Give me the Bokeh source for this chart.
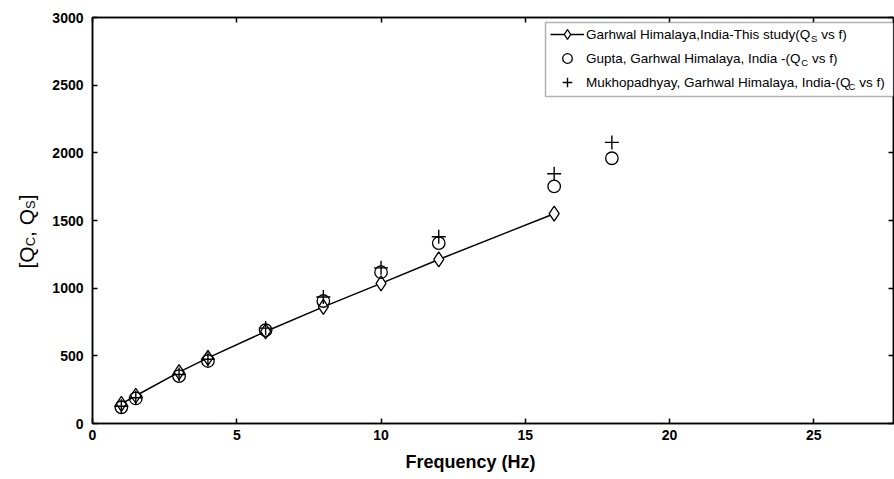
import math
from bokeh.plotting import figure
from bokeh.layouts import row
from bokeh.models import (Range1d, LinearAxis, FixedTicker, Legend, LegendItem, Label,
                          BoxAnnotation, Title)
from bokeh.embed import file_html
from bokeh.resources import INLINE

# ---------------- data ----------------
freq_this = [1, 1.5, 3, 4, 6, 8, 10, 12, 16]
qs_this = [145, 205, 380, 485, 680, 862, 1035, 1212, 1550]

freq_gupta = [1, 1.5, 3, 4, 6, 8, 10, 12, 16, 18]
qc_gupta = [120, 185, 350, 462, 690, 905, 1118, 1333, 1752, 1960]

freq_mukh = [1, 1.5, 3, 4, 6, 8, 10, 12, 16, 18]
qc_mukh = [128, 190, 362, 475, 705, 935, 1150, 1380, 1845, 2077]

x_ticks = [0, 5, 10, 15, 20, 25]
y_ticks = [0, 500, 1000, 1500, 2000, 2500, 3000]

legend_prefix = [
    "Garhwal Himalaya,India-This study(Q",
    "Gupta, Garhwal Himalaya, India -(Q",
    "Mukhopadhyay, Garhwal Himalaya, India-(Q",
]
legend_sub = ["S", "C", "C"]
legend_suffix = "vs f)"
x_title = "Frequency (Hz)"
y_title_parts = [("[Q", False), ("C", True), (", Q", False), ("S", True), ("]", False)]

# ---------------- layout ----------------
PAGE_W, PAGE_H = 894, 479
STRIP_W = 46                       # narrow strip holding the y title
FRAME_L, FRAME_T, FRAME_W, FRAME_H = 92, 17, 801, 406
X_END, Y_END = 27.76, 3000
FONT = "Liberation Sans"

# Arial / Liberation Sans advance widths (per 1000 em)
AW = {' ': 278, '(': 333, ')': 333, ',': 278, '-': 333, '.': 278, '[': 278, ']': 278,
      'C': 722, 'G': 778, 'H': 722, 'I': 278, 'M': 833, 'Q': 778, 'S': 667, 'T': 611,
      'a': 556, 'd': 556, 'f': 278, 'h': 556, 'i': 222, 'k': 500, 'l': 222, 'm': 833,
      'n': 556, 'o': 556, 'p': 556, 'r': 333, 's': 500, 't': 278, 'u': 556, 'v': 500,
      'w': 722, 'y': 500}


def tw(s, size):
    return sum(AW.get(c, 556) for c in s) * size / 1000.0


def xd(img_x):
    return (img_x - FRAME_L) / FRAME_W * X_END


def yd(img_y):
    return (FRAME_T + FRAME_H - img_y) / FRAME_H * Y_END


main_w = PAGE_W - STRIP_W
p = figure(width=main_w, height=PAGE_H, x_range=Range1d(0, X_END), y_range=Range1d(0, Y_END),
           output_backend="svg", toolbar_location=None,
           min_border_left=FRAME_L - STRIP_W, min_border_right=main_w - (FRAME_L - STRIP_W) - FRAME_W,
           min_border_top=FRAME_T, min_border_bottom=PAGE_H - FRAME_T - FRAME_H)
p.grid.visible = False
p.outline_line_color = "black"
p.outline_line_width = 1.5
p.background_fill_color = "white"
p.border_fill_color = "white"

bottom_axis = p.below[0]
left_axis = p.left[0]
top_axis = LinearAxis()
right_axis = LinearAxis()
p.add_layout(top_axis, "above")
p.add_layout(right_axis, "right")

for ax, ticks in ((bottom_axis, x_ticks), (top_axis, x_ticks), (left_axis, y_ticks), (right_axis, y_ticks)):
    ax.ticker = FixedTicker(ticks=ticks)
    ax.axis_line_color = "black"
    ax.axis_line_width = 1.5
    ax.major_tick_line_color = "black"
    ax.major_tick_line_width = 1.5
    ax.major_tick_in = 5
    ax.major_tick_out = 0
    ax.minor_tick_line_color = None
    ax.major_label_text_font = FONT
    ax.major_label_text_font_style = "bold"
    ax.major_label_text_font_size = "14px"
    ax.major_label_text_color = "black"

for ax in (top_axis, right_axis):
    ax.major_label_text_font_size = "1px"
    ax.major_label_text_color = None
    ax.major_label_standoff = 0

bottom_axis.major_label_standoff = 6
left_axis.major_label_standoff = 9

# x title in the panel below the frame
p.add_layout(Title(text=x_title, align="left", offset=313, standoff=14,
                   text_font=FONT, text_font_style="bold", text_font_size="18px",
                   text_color="black"), "below")

# ---------------- data glyphs ----------------
line_r = p.line(freq_this, qs_this, line_color="black", line_width=1.5)
dia_r = p.scatter(freq_this, qs_this, marker="diamond", size=15, fill_color="white",
                  line_color="black", line_width=1.3)
circ_r = p.scatter(freq_gupta, qc_gupta, marker="circle", size=12.5, fill_color=None,
                   line_color="black", line_width=1.3)
plus_r = p.scatter(freq_mukh, qc_mukh, marker="cross", size=14,
                   line_color="black", line_width=1.4)

# ---------------- legend ----------------
box = BoxAnnotation(left=xd(545), right=X_END, top=yd(22), bottom=yd(96),
                    fill_color="white", fill_alpha=1.0, line_color="black", line_width=1.5)
p.add_layout(box)

legend = Legend(items=[
    LegendItem(label=legend_prefix[0], renderers=[line_r, dia_r]),
    LegendItem(label=legend_prefix[1], renderers=[circ_r]),
    LegendItem(label=legend_prefix[2], renderers=[plus_r]),
], location=(550 - FRAME_L, FRAME_T + FRAME_H - 94), padding=0, spacing=0,
    glyph_width=34, glyph_height=24, label_height=24, label_width=20, label_standoff=2,
    margin=0, border_line_color=None, background_fill_alpha=0,
    label_text_font=FONT, label_text_font_size="13.5px", label_text_color="black")
p.add_layout(legend)

TEXT_X0 = 586
kern_fix = [0.0, 0.0, -3.8]
for i in range(3):
    row_y = 34 + 24 * i
    sx = TEXT_X0 + tw(legend_prefix[i], 13.5) + 0.3 + kern_fix[i]
    p.add_layout(Label(x=xd(sx), y=yd(row_y + 4), text=legend_sub[i], text_font=FONT,
                       text_font_size="9.5px", text_color="black", text_baseline="middle",
                       text_align="left"))
    fx = sx + tw(legend_sub[i], 9.5) + tw(" ", 13.5)
    p.add_layout(Label(x=xd(fx), y=yd(row_y), text=legend_suffix, text_font=FONT,
                       text_font_size="13.5px", text_color="black", text_baseline="middle",
                       text_align="left"))

# ---------------- y title strip ----------------
# The row aligns this strip's frame with the main frame (page y 17..423), so this
# y range makes strip data y equal to (page height - page y).
s = figure(width=STRIP_W, height=PAGE_H, x_range=Range1d(0, STRIP_W),
           y_range=Range1d(PAGE_H - (FRAME_T + FRAME_H), PAGE_H - FRAME_T),
           output_backend="svg", toolbar_location=None, min_border=0,
           x_axis_location=None, y_axis_location=None)
s.grid.visible = False
s.outline_line_color = None
s.background_fill_color = "white"
s.border_fill_color = "white"

pos = 268.0
for txt, is_sub in y_title_parts:
    size = 13 if is_sub else 21
    bx = 30 if is_sub else 26
    s.add_layout(Label(x=bx, y=PAGE_H - pos, text=txt, angle=math.pi / 2, text_font=FONT,
                       text_font_size=f"{size}px", text_color="black", text_align="left",
                       text_baseline="alphabetic"))
    pos -= tw(txt, size)

layout = row(s, p, spacing=0)
open("out.html", "w").write(file_html(layout, INLINE))
